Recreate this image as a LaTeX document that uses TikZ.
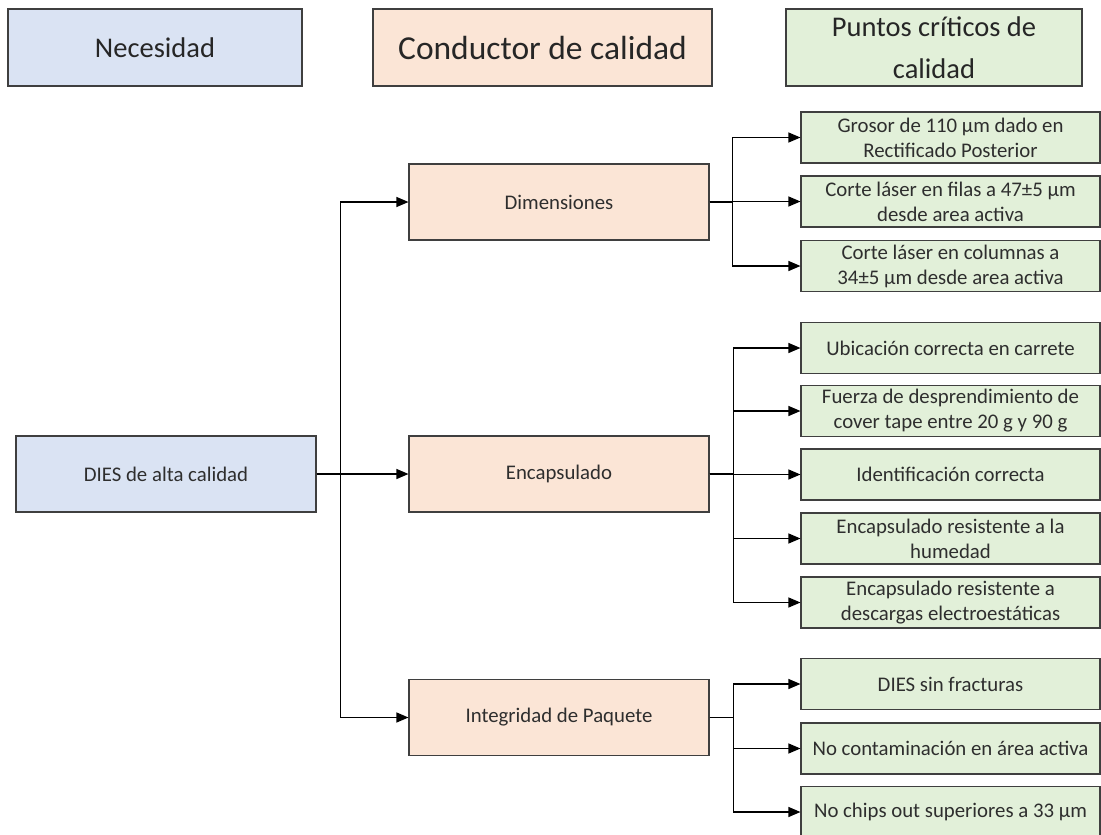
\documentclass[tikz,border=0pt]{standalone}
\usepackage{fontspec}
\setmainfont{Carlito}
\usetikzlibrary{arrows.meta}
\definecolor{needfill}{HTML}{DAE3F3}
\definecolor{drvfill}{HTML}{FBE5D6}
\definecolor{ctqfill}{HTML}{E2F0D9}
\definecolor{edgegray}{HTML}{3F3F3F}
\definecolor{txtgray}{HTML}{2E2E2E}
\begin{document}
\begin{tikzpicture}[x=1pt,y=-1pt,
  box/.style={draw=edgegray, line width=1.1pt, rectangle, inner sep=0pt,
    align=center, text=txtgray, font=\fontsize{20.8}{25}\selectfont},
  head/.style={box, minimum height=77pt, text=black!85,
    font=\fontsize{28.5}{42}\selectfont},
  need/.style={box, fill=needfill},
  drv/.style={box, fill=drvfill, minimum width=300pt, minimum height=76pt},
  ctq/.style={box, fill=ctqfill, minimum width=299pt, minimum height=51pt},
  conn/.style={line width=1.2pt, -{Triangle[length=12pt,width=10pt]}}
]
\useasboundingbox (0,0) rectangle (1101,835);

% column headers
\node[head, fill=needfill, minimum width=294pt] (hneed) at (155,47.5) {Necesidad};
\node[head, fill=drvfill, minimum width=339pt, font=\fontsize{33.5}{42}\selectfont]
  (hdrv) at (542.5,47.5) {Conductor de calidad};
\node[head, fill=ctqfill, minimum width=296pt] (hctq) at (934,47.5) {Puntos críticos de\\calidad};

% need
\node[need, minimum width=300pt, minimum height=76pt] (dies) at (166,474) {DIES de alta calidad};

% quality drivers
\node[drv] (dim) at (559,202) {Dimensiones};
\node[drv] (enc) at (559,474) {Encapsulado};
\node[drv] (int) at (559,717.5) {Integridad de Paquete};

% critical points: dimensions
\node[ctq] (g1) at (950.5,137.5) {Grosor de 110 µm dado en\\Rectificado Posterior};
\node[ctq] (g2) at (950.5,201.5) {Corte láser en filas a 47±5 µm\\desde area activa};
\node[ctq] (g3) at (950.5,266) {Corte láser en columnas a\\34±5 µm desde area activa};

% critical points: packaging
\node[ctq] (e1) at (950.5,348) {Ubicación correcta en carrete};
\node[ctq] (e2) at (950.5,411) {Fuerza de desprendimiento de\\cover tape entre 20 g y 90 g};
\node[ctq] (e3) at (950.5,474.5) {Identificación correcta};
\node[ctq] (e4) at (950.5,538.5) {Encapsulado resistente a la\\humedad};
\node[ctq] (e5) at (950.5,602.5) {Encapsulado resistente a\\descargas electroestáticas};

% critical points: package integrity
\node[ctq] (i1) at (950.5,684) {DIES sin fracturas};
\node[ctq] (i2) at (950.5,748.5) {No contaminación en área activa};
\node[ctq] (i3) at (950.5,812) {No chips out superiores a 33 µm};

% connectors
\draw[conn] (dies.east) -- ++(24,0) |- (dim.west);
\draw[conn] (dies.east) -- (enc.west);
\draw[conn] (dies.east) -- ++(24,0) |- (int.west);

\foreach \t in {g1,g2,g3}
  \draw[conn] (dim.east) -- ++(23,0) |- (\t.west);
\foreach \t in {e1,e2,e3,e4,e5}
  \draw[conn] (enc.east) -- ++(24,0) |- (\t.west);
\foreach \t in {i1,i2,i3}
  \draw[conn] (int.east) -- ++(24,0) |- (\t.west);
\end{tikzpicture}
\end{document}
